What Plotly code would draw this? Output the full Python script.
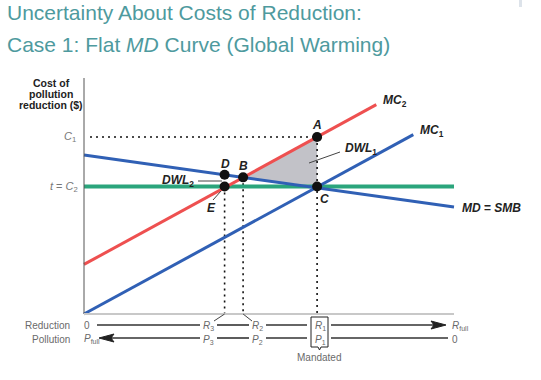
import plotly.graph_objects as go

# ---------------- data (economic units: reduction 0..100, cost 0..100) ----------------
mc1_x = [0, 89]
mc1_y = [0, 76]
mc2_x = [0, 79]
mc2_y = [21, 88.7]
md_x = [0, 100]
md_y = [67.4, 45.3]
tax_x = [0, 100]
tax_y = [54, 54]
C1 = 75
C2 = 54
R3, R2, R1 = 38, 43, 63
pt_names = ["A", "B", "C", "D", "E"]
pt_x = [R1, R2, R1, R3, R3]
pt_y = [C1, 57.9, C2, 59.0, C2]
R_FULL = 100
Y_TOP = 100

RED = "#EE5050"
BLUE = "#3060B5"
GREEN = "#2BA57C"
TEAL = "#4E9A9E"
GRAY = "#6a6a6a"
FONT = "Liberation Sans, Arial, sans-serif"

# pixel helpers (page coordinates) for decorations
def X(px):
    return (px - 84) / 3.7

def Y(py):
    return (314 - py) / 2.36

fig = go.Figure()

# shaded DWL1 triangle A-B-C
A = (pt_x[0], pt_y[0]); B = (pt_x[1], pt_y[1]); C = (pt_x[2], pt_y[2])
fig.add_trace(go.Scatter(x=[A[0], B[0], C[0], A[0]], y=[A[1], B[1], C[1], A[1]],
                         fill="toself", fillcolor="#C2C2C8", line=dict(width=0),
                         mode="lines", hoverinfo="skip"))

# dotted guide lines
dot = dict(color="#111", width=1.6, dash="2px,4px")
fig.add_trace(go.Scatter(x=[X(90), R1], y=[C1, C1], mode="lines", line=dot))
fig.add_trace(go.Scatter(x=[R1, R1], y=[C1, 0], mode="lines", line=dot))
fig.add_trace(go.Scatter(x=[R2, R2], y=[pt_y[1], 0], mode="lines", line=dot))
fig.add_trace(go.Scatter(x=[R3, R3], y=[C2, 0], mode="lines", line=dot))

# curves
fig.add_trace(go.Scatter(x=tax_x, y=tax_y, mode="lines", line=dict(color=GREEN, width=4)))
fig.add_trace(go.Scatter(x=mc2_x, y=mc2_y, mode="lines", line=dict(color=RED, width=3)))
fig.add_trace(go.Scatter(x=mc1_x, y=mc1_y, mode="lines", line=dict(color=BLUE, width=3)))
fig.add_trace(go.Scatter(x=md_x, y=md_y, mode="lines", line=dict(color=BLUE, width=3)))

# points
fig.add_trace(go.Scatter(x=pt_x, y=pt_y, mode="markers",
                         marker=dict(color="#111", size=10)))

shapes = []
# axes
shapes.append(dict(type="line", x0=0, y0=0, x1=0, y1=Y_TOP, line=dict(color="#555", width=1)))
shapes.append(dict(type="line", x0=0, y0=0, x1=R_FULL, y1=0, line=dict(color="#C8C8C8", width=2)))

# leader lines
thin = dict(color="#444", width=1)
shapes.append(dict(type="line", x0=X(340), y0=Y(152), x1=X(309), y1=Y(163), line=thin))
shapes.append(dict(type="line", x0=X(198), y0=Y(181), x1=X(222), y1=Y(181), line=thin))
shapes.append(dict(type="line", x0=X(213), y0=Y(200), x1=X(221), y1=Y(191), line=thin))
shapes.append(dict(type="line", x0=X(214), y0=Y(321), x1=R3, y1=0, line=thin))
shapes.append(dict(type="line", x0=X(252), y0=Y(321), x1=R2, y1=0, line=thin))

# bottom rows of arrows
row = dict(color="#333", width=1.6)
ry, py = Y(325), Y(338)
for a, b in [(97, 200), (217, 249), (266, 307), (331, 435)]:
    shapes.append(dict(type="line", x0=X(a), y0=ry, x1=X(b), y1=ry, line=row))
for a, b in [(110, 200), (217, 249), (266, 307), (331, 448)]:
    shapes.append(dict(type="line", x0=X(a), y0=py, x1=X(b), y1=py, line=row))
# arrowheads
shapes.append(dict(type="path",
                   path=f"M {X(446)} {ry} L {X(431)} {Y(321)} L {X(434)} {ry} L {X(431)} {Y(329)} Z",
                   fillcolor="#222", line=dict(color="#222", width=1)))
shapes.append(dict(type="path",
                   path=f"M {X(99)} {py} L {X(114)} {Y(334)} L {X(111)} {py} L {X(114)} {Y(342)} Z",
                   fillcolor="#222", line=dict(color="#222", width=1)))
# mandated box with pointer
bx0, bx1, by0, by1 = X(311), X(328), Y(317), Y(347)
shapes.append(dict(type="path",
                   path=(f"M {bx0} {by0} L {bx1} {by0} L {bx1} {by1} L {X(321)} {by1} "
                         f"L {X(319.5)} {Y(350)} L {X(318)} {by1} L {bx0} {by1} Z"),
                   line=dict(color="#222", width=1)))
# small top-right artifact bar
shapes.append(dict(type="rect", x0=X(519), x1=X(522), y0=Y(0), y1=Y(7),
                   fillcolor="#DDE3EA", line=dict(width=0)))

ann = []
def T(px, pyy, text, size=10, color=GRAY, xanchor="center", yanchor="middle", align="center"):
    ann.append(dict(x=X(px), y=Y(pyy), text=text, showarrow=False, xanchor=xanchor,
                    yanchor=yanchor, align=align,
                    font=dict(family=FONT, size=size, color=color)))

# title (paper coords so it is never hidden)
for ty, txt in [(13, "Uncertainty About Costs of Reduction:"),
                (44, "Case 1: Flat <i>MD</i> Curve (Global Warming)")]:
    ann.append(dict(x=5 / 541, y=1 - ty / 380, xref="paper", yref="paper", text=txt,
                    showarrow=False, xanchor="left", yanchor="middle",
                    font=dict(family=FONT, size=21, color=TEAL)))

# y-axis title and ticks
T(51, 83, "<b>Cost of</b>", size=10.5, color="#222")
T(51, 94, "<b>pollution</b>", size=10.5, color="#222")
T(51, 105, "<b>reduction ($)</b>", size=10.5, color="#222")
T(78, 137, "<i>C</i><sub>1</sub>", size=11, color="#777", xanchor="right")
T(80, 187, "<i>t</i> = <i>C</i><sub>2</sub>", size=11, color="#777", xanchor="right")

# curve labels
T(381, 101, "<b><i>MC</i><sub>2</sub></b>", size=12, color="#222", xanchor="left")
T(418, 131, "<b><i>MC</i><sub>1</sub></b>", size=12, color="#222", xanchor="left")
T(460, 208, "<b><i>MD</i> = <i>SMB</i></b>", size=12, color="#222", xanchor="left")

# point labels
T(317, 125, "<b><i>A</i></b>", size=12, color="#222")
T(243, 166, "<b><i>B</i></b>", size=12, color="#222")
T(225, 164, "<b><i>D</i></b>", size=12, color="#222")
T(211, 208, "<b><i>E</i></b>", size=12, color="#222")
T(324, 199, "<b><i>C</i></b>", size=12, color="#222")
T(343, 149, "<b><i>DWL</i><sub>1</sub></b>", size=12, color="#222", xanchor="left")
T(196, 181, "<b><i>DWL</i><sub>2</sub></b>", size=12, color="#222", xanchor="right")

# bottom rows
T(72, 325, "Reduction", size=10, xanchor="right")
T(72, 339, "Pollution", size=10, xanchor="right")
T(82, 325, "0", size=10, xanchor="left")
T(82, 339, "<i>P</i><sub>full</sub>", size=10, xanchor="left")
T(208, 326, "<i>R</i><sub>3</sub>", size=10)
T(208, 340, "<i>P</i><sub>3</sub>", size=10)
T(257, 326, "<i>R</i><sub>2</sub>", size=10)
T(257, 340, "<i>P</i><sub>2</sub>", size=10)
T(320, 326, "<i>R</i><sub>1</sub>", size=10)
T(320, 340, "<i>P</i><sub>1</sub>", size=10)
T(450, 326, "<i>R</i><sub>full</sub>", size=10, xanchor="left")
T(450, 339, "0", size=10, xanchor="left")
T(319, 357, "Mandated", size=10)

fig.update_layout(
    width=541, height=380,
    margin=dict(l=0, r=0, t=0, b=0),
    paper_bgcolor="white", plot_bgcolor="white",
    showlegend=False,
    xaxis=dict(range=[X(0), X(541)], visible=False, fixedrange=True),
    yaxis=dict(range=[Y(380), Y(0)], visible=False, fixedrange=True),
    shapes=shapes, annotations=ann,
)
fig.write_html("out.html", config={"displayModeBar": False},
               post_script="document.body.style.margin='0';")
